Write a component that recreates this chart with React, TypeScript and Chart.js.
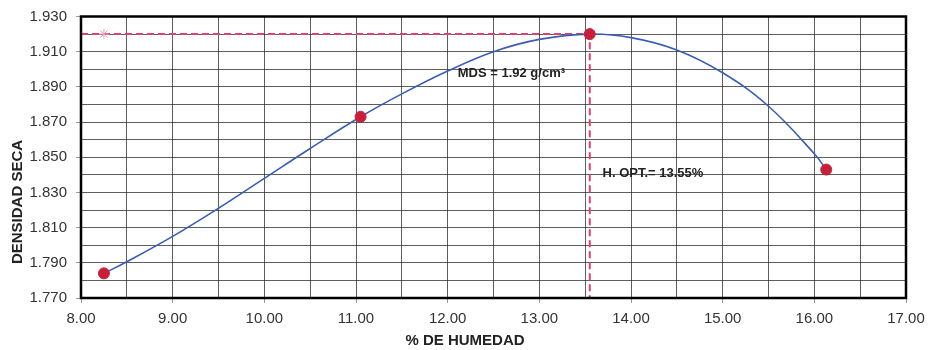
import React, { useEffect, useRef } from "react";
import { Chart, registerables } from "chart.js";

Chart.register(...registerables);

// Measured compaction points (% humidity vs dry density)
const moisture = [8.25, 11.05, 13.55, 16.13];
const density = [1.784, 1.873, 1.92, 1.843];

// Trend curve
const curveMoisture = [8.25, 8.5, 9, 9.5, 10, 10.5, 11.05, 11.5, 12, 12.5, 13, 13.55, 14, 14.5, 15, 15.5, 16, 16.13];
const curveDensity = [1.784, 1.7906, 1.805, 1.821, 1.838, 1.855, 1.873, 1.886, 1.899, 1.91, 1.917, 1.92, 1.918, 1.911, 1.898, 1.879, 1.852, 1.843];

// Optimum guide lines
const guideMoisture = [8.0, 13.55, 13.55];
const guideDensity = [1.92, 1.92, 1.77];
const starMoisture = [8.25];
const starDensity = [1.92];

const mdsLabel = "MDS = 1.92 g/cm³";
const hoptLabel = "H. OPT.= 13.55%";
const xTitle = "% DE HUMEDAD";
const yTitle = "DENSIDAD SECA";

const FONT = "'Liberation Sans', Arial, sans-serif";

const zip = (xs: number[], ys: number[]) => xs.map((x, i) => ({ x, y: ys[i] }));

export default function App() {
  const ref = useRef<HTMLCanvasElement | null>(null);

  useEffect(() => {
    document.body.style.margin = "0";
    const canvas = ref.current;
    if (!canvas) return;

    const framePlugin = {
      id: "frame",
      afterDraw(chart: any) {
        const { ctx, chartArea, scales } = chart;
        ctx.save();
        ctx.strokeStyle = "#000";
        ctx.lineWidth = 2.5;
        ctx.strokeRect(chartArea.left, chartArea.top, chartArea.right - chartArea.left, chartArea.bottom - chartArea.top);

        ctx.fillStyle = "#222";
        ctx.font = `bold 15px ${FONT}`;
        ctx.textAlign = "center";
        ctx.textBaseline = "middle";
        ctx.fillText(xTitle, 465, 341);
        ctx.save();
        ctx.translate(18, 202);
        ctx.rotate(-Math.PI / 2);
        ctx.fillText(yTitle, 0, 0);
        ctx.restore();

        ctx.font = `bold 13px ${FONT}`;
        ctx.textAlign = "left";
        const xs = scales.x;
        const ys = scales.y;
        ctx.fillText(mdsLabel, xs.getPixelForValue(12.11), ys.getPixelForValue(1.8977));
        ctx.fillText(hoptLabel, xs.getPixelForValue(13.69), ys.getPixelForValue(1.8406));
        ctx.restore();
      },
    };

    const chart = new Chart(canvas, {
      type: "scatter",
      data: {
        datasets: [
          {
            label: "Puntos",
            data: zip(moisture, density),
            showLine: false,
            pointStyle: "circle",
            pointRadius: 5.5,
            pointBackgroundColor: "#c8203a",
            pointBorderColor: "#c8203a",
          },
          {
            label: "Curva",
            data: zip(curveMoisture, curveDensity),
            showLine: true,
            tension: 0.4,
            pointRadius: 0,
            borderColor: "#3a5db5",
            borderWidth: 1.6,
          },
          {
            label: "Marca",
            data: zip(starMoisture, starDensity),
            showLine: false,
            pointStyle: "star",
            pointRadius: 5,
            borderColor: "#e8a0b4",
            borderWidth: 1,
          },
          {
            label: "Optimo",
            data: zip(guideMoisture, guideDensity),
            showLine: true,
            tension: 0,
            pointRadius: 0,
            borderColor: "#e0406a",
            borderWidth: 2,
            borderDash: [7, 4],
          },
        ],
      },
      options: {
        responsive: false,
        maintainAspectRatio: false,
        animation: false,
        devicePixelRatio: 1,
        layout: { padding: { top: 15, right: 22, left: 0, bottom: 0 } },
        plugins: {
          legend: { display: false },
          tooltip: { enabled: false },
        },
        scales: {
          x: {
            type: "linear",
            min: 8,
            max: 17,
            afterFit: (s: any) => {
              s.height = 52;
              s.paddingRight = 0;
              s.paddingLeft = 0;
            },
            ticks: {
              stepSize: 0.5,
              autoSkip: false,
              maxRotation: 0,
              padding: 7,
              color: "#333",
              font: { family: FONT, size: 15 },
              callback: (v: any, i: number) => (i % 2 === 0 ? Number(v).toFixed(2) : ""),
            },
            grid: {
              color: "rgba(40,40,40,0.75)",
              lineWidth: 1,
              tickLength: 5,
              tickColor: (c: any) => (c.index % 2 === 0 ? "#999" : "rgba(0,0,0,0)"),
            },
            border: { display: false },
          },
          y: {
            type: "linear",
            min: 1.77,
            max: 1.93,
            afterFit: (s: any) => {
              s.width = 81;
            },
            ticks: {
              stepSize: 0.01,
              autoSkip: false,
              padding: 9,
              color: "#333",
              font: { family: FONT, size: 15, lineHeight: 1 },
              callback: (v: any, i: number) => (i % 2 === 0 ? Number(v).toFixed(3) : ""),
            },
            grid: {
              color: "rgba(40,40,40,0.75)",
              lineWidth: 1,
              tickLength: 5,
              tickColor: (c: any) => (c.index % 2 === 0 ? "#999" : "rgba(0,0,0,0)"),
            },
            border: { display: false },
          },
        },
      },
      plugins: [framePlugin],
    });

    return () => chart.destroy();
  }, []);

  return <canvas ref={ref} width={928} height={350} style={{ display: "block" }} />;
}
